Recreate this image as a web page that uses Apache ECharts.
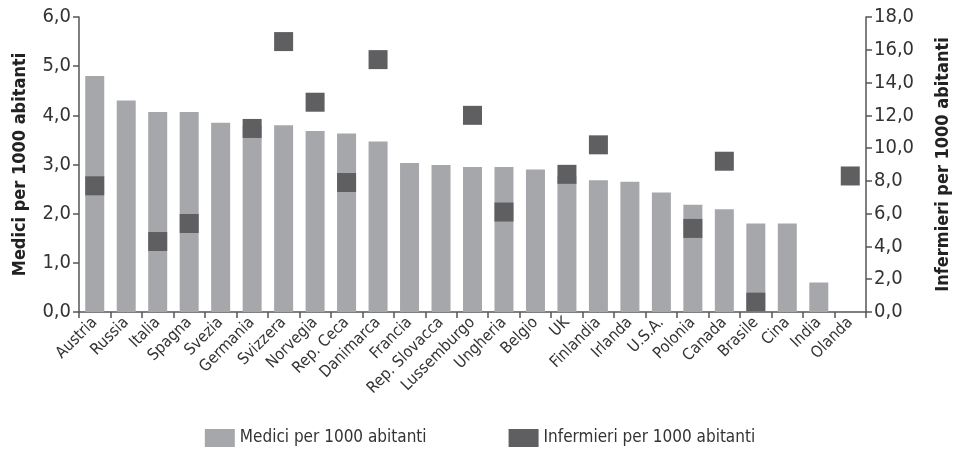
<!DOCTYPE html>
<html>
<head>
<meta charset="utf-8">
<script src="https://cdn.jsdelivr.net/npm/echarts@6/dist/echarts.min.js"></script>
<style>
  html, body { margin: 0; padding: 0; background: #fff; }
  #chart { width: 960px; height: 458px; }
</style>
</head>
<body>
<div id="chart"></div>
<script>
// medici e infermieri per 1000 abitanti
var paesi = ["Austria", "Russia", "Italia", "Spagna", "Svezia", "Germania", "Svizzera", "Norvegia",
  "Rep. Ceca", "Danimarca", "Francia", "Rep. Slovacca", "Lussemburgo", "Ungheria", "Belgio", "UK",
  "Finlandia", "Irlanda", "U.S.A.", "Polonia", "Canada", "Brasile", "Cina", "India", "Olanda"];
var medici = [4.8, 4.3, 4.07, 4.07, 3.85, 3.8, 3.8, 3.68, 3.63, 3.47, 3.03, 2.99, 2.95, 2.95, 2.9,
  2.77, 2.68, 2.65, 2.43, 2.18, 2.09, 1.8, 1.8, 0.6, null];
var infermieri = [7.7, null, 4.3, 5.4, null, 11.2, 16.5, 12.8, 7.9, 15.4, null, null, 12.0, 6.1, null,
  8.4, 10.2, null, null, 5.1, 9.2, 0.6, null, null, 8.3];
var tickSx = [0, 1, 2, 3, 4, 5, 6];
var tickDx = [0, 2, 4, 6, 8, 10, 12, 14, 16, 18];

var FONT = "'DejaVu Sans Condensed', 'Liberation Sans Narrow', sans-serif";
var fmt = function (v) { return v.toFixed(1).replace(".", ","); };

var myChart = echarts.init(document.getElementById("chart"));
myChart.setOption({
  animation: false,
  textStyle: { fontFamily: FONT },
  grid: { left: 79, right: 86, top: 17, bottom: 146 },
  legend: {
    bottom: 6,
    left: "center",
    itemWidth: 30,
    itemHeight: 18,
    itemGap: 82,
    icon: "rect",
    textStyle: { fontFamily: FONT, fontSize: 17, color: "#333" },
    data: ["Medici per 1000 abitanti", "Infermieri per 1000 abitanti"]
  },
  xAxis: {
    type: "category",
    data: paesi,
    axisLine: { lineStyle: { color: "#555", width: 1.5 } },
    axisTick: { show: true, length: 6, lineStyle: { color: "#555", width: 1.5 } },
    axisLabel: {
      interval: 0,
      rotate: 45,
      margin: 8,
      fontFamily: FONT,
      fontSize: 16,
      color: "#333"
    }
  },
  yAxis: [
    {
      type: "value",
      min: tickSx[0],
      max: tickSx[tickSx.length - 1],
      interval: 1,
      name: "Medici per 1000 abitanti",
      nameLocation: "middle",
      nameGap: 50,
      nameTextStyle: { fontFamily: FONT, fontSize: 18, fontWeight: "bold", color: "#222" },
      axisLine: { show: true, lineStyle: { color: "#555", width: 1.5 } },
      axisTick: { show: true, length: 6, lineStyle: { color: "#555", width: 1.5 } },
      splitLine: { show: false },
      axisLabel: { formatter: fmt, fontFamily: FONT, fontSize: 20, color: "#333", margin: 8 }
    },
    {
      type: "value",
      min: tickDx[0],
      max: tickDx[tickDx.length - 1],
      interval: 2,
      position: "right",
      name: "Infermieri per 1000 abitanti",
      nameLocation: "middle",
      nameGap: 68,
      nameRotate: 90,
      nameTextStyle: { fontFamily: FONT, fontSize: 18, fontWeight: "bold", color: "#222" },
      axisLine: { show: true, lineStyle: { color: "#555", width: 1.5 } },
      axisTick: { show: true, length: 6, lineStyle: { color: "#555", width: 1.5 } },
      splitLine: { show: false },
      axisLabel: { formatter: fmt, fontFamily: FONT, fontSize: 20, color: "#333", margin: 8 }
    }
  ],
  series: [
    {
      name: "Medici per 1000 abitanti",
      type: "bar",
      data: medici,
      barWidth: 19,
      itemStyle: { color: "#a6a7aa" }
    },
    {
      name: "Infermieri per 1000 abitanti",
      type: "scatter",
      yAxisIndex: 1,
      data: infermieri,
      symbol: "rect",
      symbolSize: 19,
      z: 5,
      itemStyle: { color: "#5f5f62", opacity: 1 }
    }
  ]
});
</script>
</body>
</html>
